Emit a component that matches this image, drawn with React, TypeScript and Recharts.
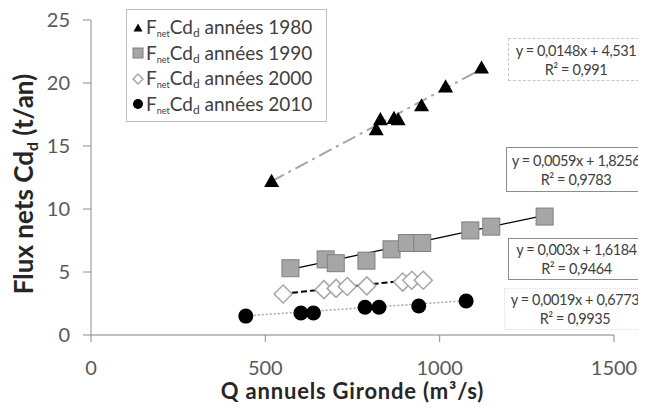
import { Scatter, ScatterChart, XAxis, YAxis } from 'recharts';

const FONT = 'Lato, "Open Sans", sans-serif';

const DECADES = ['1980', '1990', '2000', '2010'];

const Q_1980 = [518, 818, 830, 869, 881, 948, 1017, 1120];
const F_1980 = [12.2, 16.3, 17.1, 17.2, 17.1, 18.2, 19.7, 21.2];
const Q_1990 = [572, 673, 702, 790, 862, 906, 950, 1088, 1148, 1301];
const F_1990 = [5.3, 6.0, 5.7, 5.9, 6.8, 7.3, 7.3, 8.3, 8.6, 9.4];
const Q_2000 = [551, 668, 703, 735, 791, 894, 920, 953];
const F_2000 = [3.25, 3.6, 3.7, 3.85, 3.9, 4.2, 4.35, 4.35];
const Q_2010 = [444, 602, 638, 786, 826, 940, 1076];
const F_2010 = [1.5, 1.75, 1.75, 2.2, 2.2, 2.3, 2.7];

const SLOPES = [0.0148, 0.0059, 0.003, 0.0019];
const INTERCEPTS = [4.531, 1.8256, 1.6184, 0.6773];
const EQ_LABELS = ['y = 0,0148x + 4,531', 'y = 0,0059x + 1,8256', 'y = 0,003x + 1,6184', 'y = 0,0019x + 0,6773'];
const R2_LABELS = ['R² = 0,991', 'R² = 0,9783', 'R² = 0,9464', 'R² = 0,9935'];

const X_TICKS = [0, 500, 1000, 1500];
const Y_TICKS = [0, 5, 10, 15, 20, 25];

const QS = [Q_1980, Q_1990, Q_2000, Q_2010];
const FS = [F_1980, F_1990, F_2000, F_2010];

const points = QS.map((q, s) => q.map((x, i) => ({ x, y: FS[s][i] })));
// trendlines span the data range of each decade
const trends = QS.map((q, s) => {
  const lo = Math.min(...q);
  const hi = Math.max(...q);
  return [
    { x: lo, y: SLOPES[s] * lo + INTERCEPTS[s] },
    { x: hi, y: SLOPES[s] * hi + INTERCEPTS[s] },
  ];
});

const trendStyles = [
  { stroke: '#a6a6a6', strokeWidth: 2, strokeDasharray: '14 5 3 5' },
  { stroke: '#000', strokeWidth: 1.3 },
  { stroke: '#000', strokeWidth: 2, strokeDasharray: '6 3' },
  { stroke: '#a6a6a6', strokeWidth: 1.5, strokeDasharray: '2 2' },
];

const Triangle = ({ cx, cy, s = 7.5 }: any) => (
  <polygon points={`${cx},${cy - s} ${cx + s},${cy + s * 0.75} ${cx - s},${cy + s * 0.75}`} fill="#000" />
);
const Square = ({ cx, cy, s = 8.5 }: any) => (
  <rect x={cx - s} y={cy - s} width={s * 2} height={s * 2} fill="#a6a6a6" stroke="#7f7f7f" strokeWidth={1} />
);
const Diamond = ({ cx, cy, s = 9 }: any) => (
  <polygon points={`${cx},${cy - s} ${cx + s},${cy} ${cx},${cy + s} ${cx - s},${cy}`} fill="#fff" stroke="#a6a6a6" strokeWidth={1.5} />
);
const Dot = ({ cx, cy, s = 7.5 }: any) => <circle cx={cx} cy={cy} r={s} fill="#000" />;

const SHAPES = [Triangle, Square, Diamond, Dot];

const boxStyles = [
  { left: 500, top: 30, width: 136, height: 43, border: '1px dashed #c8c8c8' },
  { left: 498, top: 139, width: 140, height: 45, border: '1.5px solid #8c8c8c' },
  { left: 500, top: 230, width: 137, height: 42, border: '1px solid #8c8c8c' },
  { left: 496, top: 280, width: 142, height: 42, border: '1px dotted #e0e0e0' },
];

const YTitle = () => (
  <text transform="translate(25,176) rotate(-90)" textAnchor="middle" fontFamily={FONT} fontWeight="bold" fontSize={26} fill="#262626">
    Flux nets Cd<tspan dy={5} fontSize={16}>d</tspan><tspan dy={-5}> (t/an)</tspan>
  </text>
);

const LegendLabel = ({ decade }: { decade: string }) => (
  <span>
    F<sub style={{ fontSize: 9, verticalAlign: '-3px' }}>net</sub>Cd<sub style={{ fontSize: 12, verticalAlign: '-3px' }}>d</sub> années {decade}
  </span>
);

export default function App() {
  return (
    <div style={{ position: 'relative', width: 638, height: 397, fontFamily: FONT }}>
      <ScatterChart width={638} height={397} margin={{ top: 12, right: 32, left: 0, bottom: 0 }}>
        <XAxis
          type="number"
          dataKey="x"
          domain={[0, 1500]}
          ticks={X_TICKS}
          tick={{ fill: '#595959', fontSize: 20, fontFamily: FONT }}
          tickSize={7}
          tickMargin={19}
          axisLine={{ stroke: '#bfbfbf', strokeWidth: 2 }}
          tickLine={{ stroke: '#8c8c8c' }}
          height={70}
        />
        <YAxis
          type="number"
          dataKey="y"
          domain={[0, 25]}
          ticks={Y_TICKS}
          tick={{ fill: '#595959', fontSize: 20, fontFamily: FONT }}
          tickSize={8}
          tickMargin={13}
          axisLine={{ stroke: '#8c8c8c' }}
          tickLine={{ stroke: '#8c8c8c' }}
          width={83}
          label={<YTitle />}
        />
        {trends.map((t, s) => (
          <Scatter
            key={`t${s}`}
            data={t}
            line={trendStyles[s]}
            lineType="joint"
            shape={() => null}
            isAnimationActive={false}
          />
        ))}
        {points.map((p, s) => (
          <Scatter
            key={`p${s}`}
            name={DECADES[s]}
            data={p}
            shape={SHAPES[s]}
            isAnimationActive={false}
          />
        ))}
      </ScatterChart>

      <div style={{
        position: 'absolute', left: 118, top: 1, width: 201, height: 113, boxSizing: 'border-box',
        border: '1px solid #bfbfbf', background: '#fff', padding: '5px 0 0 5px',
        color: '#404040', fontSize: 19,
      }}>
        {DECADES.map((d, s) => {
          const Shape = SHAPES[s];
          return (
            <div key={d} style={{ display: 'flex', alignItems: 'center', height: 25.5, whiteSpace: 'nowrap' }}>
              <svg width={12} height={14} style={{ marginRight: 2 }}>
                <Shape cx={6} cy={7} s={s === 0 ? 4.5 : 5} />
              </svg>
              <LegendLabel decade={d} />
            </div>
          );
        })}
      </div>

      {boxStyles.map((b, i) => (
        <div key={i} style={{
          position: 'absolute', boxSizing: 'border-box', background: '#fff',
          display: 'flex', flexDirection: 'column', alignItems: 'center', justifyContent: 'center',
          color: '#404040', fontSize: 14.5, lineHeight: '19px', whiteSpace: 'nowrap', letterSpacing: -0.4,
          overflow: 'hidden', ...b,
        }}>
          <div>{EQ_LABELS[i]}</div>
          <div>{R2_LABELS[i]}</div>
        </div>
      ))}

      <svg style={{ position: 'absolute', left: 83, top: 370 }} width={523} height={27}>
        <text x={261.5} y={21} textAnchor="middle" fontFamily={FONT} fontWeight="bold" fontSize={22} letterSpacing={0.8} fill="#262626">
          Q annuels Gironde (m³/s)
        </text>
      </svg>
    </div>
  );
}
